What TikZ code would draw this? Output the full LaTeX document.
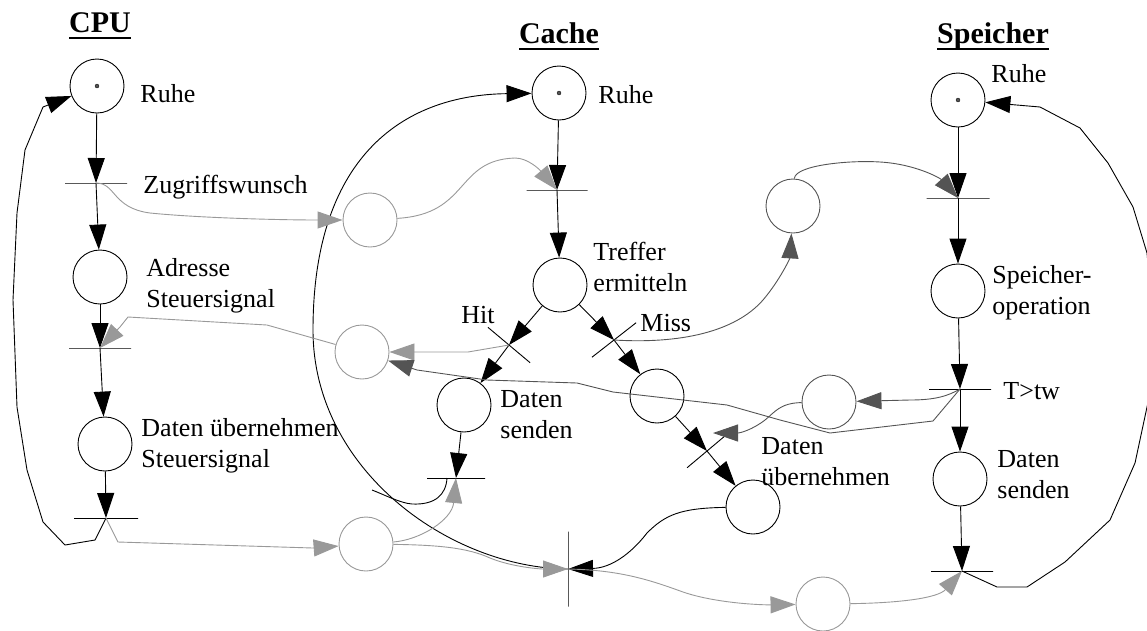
\documentclass[tikz,border=0pt]{standalone}
\usepackage{fontspec}
\setmainfont{Liberation Serif}
\usepackage{tikz}
\usetikzlibrary{shapes,arrows,arrows.meta}
\definecolor{lgray}{gray}{0.6}
\definecolor{dgray}{gray}{0.33}
\tikzstyle{line} = [draw, -{Triangle[length=25pt,width=17pt]}]
\tikzstyle{gline} = [line, lgray]
\tikzstyle{dline} = [line, dgray]
\tikzstyle{place} = [draw, circle, minimum size=54pt, inner sep=0pt]
\tikzstyle{marked} = [place, path picture={\filldraw[fill=dgray, draw=black, line width=0.3pt] (path picture bounding box.center) circle (2pt);}]
\tikzstyle{gplace} = [place, draw=lgray]
\tikzstyle{dplace} = [place, draw=dgray]
\tikzstyle{trans} = [draw, rectangle, minimum width=62pt, minimum height=0pt, inner sep=0pt, outer sep=0pt]
\tikzstyle{lbl} = [align=left, inner sep=0pt]
\tikzstyle{colhead} = [inner sep=0pt, anchor=base, font=\fontsize{30}{34}\selectfont\bfseries]
\newcommand{\titleul}[1]{\setbox0=\hbox{#1}\rlap{\rule[-6.5pt]{\wd0}{2pt}}\box0}

\begin{document}
\begin{tikzpicture}[x=1pt, y=-1pt, line width=0.9pt, font=\fontsize{26}{31}\selectfont]
        \useasboundingbox (0,0) rectangle (1147,630);
        \node[colhead] (hCpu) at (100,32) {\titleul{CPU}};
        \node[colhead] (hCache) at (559,43) {\titleul{Cache}};
        \node[colhead] (hMem) at (993,43) {\titleul{Speicher}};

        \node[marked] (cpuRuhe) at (97,86) {};
        \node[trans] (cpuZugriff) at (96,183) {};
        \node[place] (cpuAdresse) at (100,277) {};
        \node[trans] (cpuAdrT) at (100,348) {};
        \node[place] (cpuDaten) at (105,444) {};
        \node[trans, minimum width=64pt] (cpuDatT) at (106,518) {};

        \node[marked] (cacheRuhe) at (559,93) {};
        \node[trans, minimum width=61pt] (cacheStart) at (557,190) {};
        \node[place] (cacheTreffer) at (560,285) {};
        \node[trans, rotate=-40, minimum width=55pt] (cacheHit) at (509,345) {};
        \node[trans, rotate=38, minimum width=56pt] (cacheMiss) at (614,340) {};
        \node[place] (cacheSenden) at (464,405) {};
        \node[place] (cacheWarten) at (657,396) {};
        \node[trans, rotate=40, minimum width=52pt] (cacheLaden) at (707,451) {};
        \node[place] (cacheUeber) at (753,507) {};
        \node[trans, minimum width=58pt] (cacheSendT) at (456,478) {};
        \node[trans, rotate=90, minimum width=75pt] (cacheEnde) at (568,569) {};

        \node[marked] (memRuhe) at (958,100) {};
        \node[trans, minimum width=63pt] (memStart) at (958,198) {};
        \node[place] (memOp) at (958,291) {};
        \node[trans] (memTw) at (960,389) {};
        \node[place] (memSenden) at (960,479) {};
        \node[trans] (memSendT) at (962,571) {};

        \node[gplace] (kAnfrage) at (370,220) {};
        \node[gplace] (kHit) at (362,352) {};
        \node[gplace] (kDaten) at (366,544) {};
        \node[gplace] (kFertig) at (823,604) {};
        \node[dplace] (kLesen) at (793,206) {};
        \node[dplace] (kWeiter) at (829,402) {};
        \coordinate (arcJoin) at (372,490);

        \node[lbl, anchor=base west] (lCpuRuhe) at (140,102) {Ruhe};
        \node[lbl, anchor=base west] (lZugriff) at (143,193) {Zugriffswunsch};
        \node[lbl, anchor=north west] (lAdresse) at (146,258) {Adresse\\Steuersignal};
        \node[lbl, anchor=north west] (lCpuDaten) at (141,418) {Daten übernehmen\\Steuersignal};
        \node[lbl, anchor=base west] (lCacheRuhe) at (598,103) {Ruhe};
        \node[lbl, anchor=north west] (lTreffer) at (593,242) {Treffer\\ermitteln};
        \node[lbl, anchor=base west] (lHit) at (461,323) {Hit};
        \node[lbl, anchor=base west] (lMiss) at (640,331) {Miss};
        \node[lbl, anchor=north west] (lCacheSenden) at (500,390) {Daten\\senden};
        \node[lbl, anchor=north west] (lCacheUeber) at (761,437) {Daten\\übernehmen};
        \node[lbl, anchor=base west] (lMemRuhe) at (991,82) {Ruhe};
        \node[lbl, anchor=north west] (lMemOp) at (992,265) {Speicher-\\operation};
        \node[lbl, anchor=base west] (lTw) at (1003,399) {T>tw};
        \node[lbl, anchor=north west] (lMemSenden) at (997,450) {Daten\\senden};

        \path[line] (cpuRuhe) -- (cpuZugriff);
        \path[line] (cpuZugriff) -- (cpuAdresse);
        \path[line] (cpuAdresse) -- (cpuAdrT);
        \path[line] (cpuAdrT) -- (cpuDaten);
        \path[line] (cpuDaten) -- (cpuDatT);
        \path[line] (cpuDatT.center) -- (95,540) -- (65,545) -- (43,522) -- (27,470) -- (17,407) -- (13,300) -- (17,213) -- (25,150) -- (43,107) -- (cpuRuhe);

        \path[line] (cacheRuhe) -- (cacheStart);
        \path[line] (cacheStart) -- (cacheTreffer);
        \path[line] (cacheTreffer) -- (cacheHit);
        \path[line] (cacheHit) -- (cacheSenden);
        \path[line] (cacheTreffer) -- (cacheMiss);
        \path[line] (cacheMiss) -- (cacheWarten);
        \path[line] (cacheWarten) -- (cacheLaden);
        \path[line] (cacheLaden) -- (cacheUeber);
        \path[line] (cacheSenden) -- (cacheSendT);
        \path[line] (cacheUeber) .. controls (680,508) and (665,515) .. (647,533) .. controls (630,555) and (610,568) .. (cacheEnde);
        \path[line] (cacheEnde.center) .. controls (450,568) and (313,470) .. (313,330) .. controls (313,160) and (400,95) .. (cacheRuhe);
        \draw ([xshift=-9pt]cacheSendT.center) .. controls (446,495) and (435,505) .. (412,504) .. controls (400,503) and (385,495) .. (arcJoin);

        \path[line] (memRuhe) -- (memStart);
        \path[line] (memStart) -- (memOp);
        \path[line] (memOp) -- (memTw);
        \path[line] (memTw) -- (memSenden);
        \path[line] (memSenden) -- (memSendT);
        \path[line] (memSendT.center) -- (997,587) -- (1027,587) -- (1065,562) -- (1110,520) -- (1135,463) -- (1150,393) -- (1153,320) -- (1147,253) -- (1133,207) -- (1108,163) -- (1080,128) -- (1040,107) -- (memRuhe);

        \path[gline] (cpuZugriff.center) .. controls (116,183) and (112,208) .. (150,213) .. controls (200,218) and (280,220) .. (kAnfrage);
        \path[gline] (kAnfrage) .. controls (470,214) and (455,160) .. (515,158) .. controls (528,158) and (540,170) .. (cacheStart);
        \path[gline] (cacheHit.center) -- (468,352) -- (kHit);
        \path[gline] (kHit) -- (267,325) -- (128,317) -- (120,327) -- (cpuAdrT);
        \path[gline] (cpuDatT.center) -- (118,542) -- (313,548) -- (kDaten);
        \path[gline] (kDaten) .. controls (420,540) and (452,520) .. (cacheSendT);
        \path[gline] (kDaten) .. controls (440,545) and (468,548) .. (490,558) .. controls (512,567) and (540,569) .. (cacheEnde);
        \path[gline] (cacheEnde.center) .. controls (620,570) and (650,580) .. (683,592) .. controls (715,603) and (760,605) .. (kFertig);
        \path[gline] (kFertig) .. controls (900,603) and (938,598) .. (memSendT);

        \path[dline] (cacheMiss.center) .. controls (680,344) and (735,332) .. (763,300) .. controls (780,280) and (790,258) .. (kLesen);
        \path[dline] (kLesen) .. controls (795,165) and (850,160) .. (880,162) .. controls (915,164) and (940,178) .. (memStart);
        \path[dline] (memTw.center) .. controls (948,396) and (935,400) .. (910,400) -- (kWeiter);
        \path[dline] (kWeiter) .. controls (780,403) and (775,412) .. (765,420) .. controls (752,430) and (740,433) .. ([shift={(6pt,18pt)}]cacheLaden.center);
        \path[dline] (memTw.center) -- (933,421) -- (830,433) -- (780,420) -- (727,405) -- (613,392) -- (577,383) -- (487,380) -- (417,370) -- (kHit);
    \end{tikzpicture}
\end{document}
